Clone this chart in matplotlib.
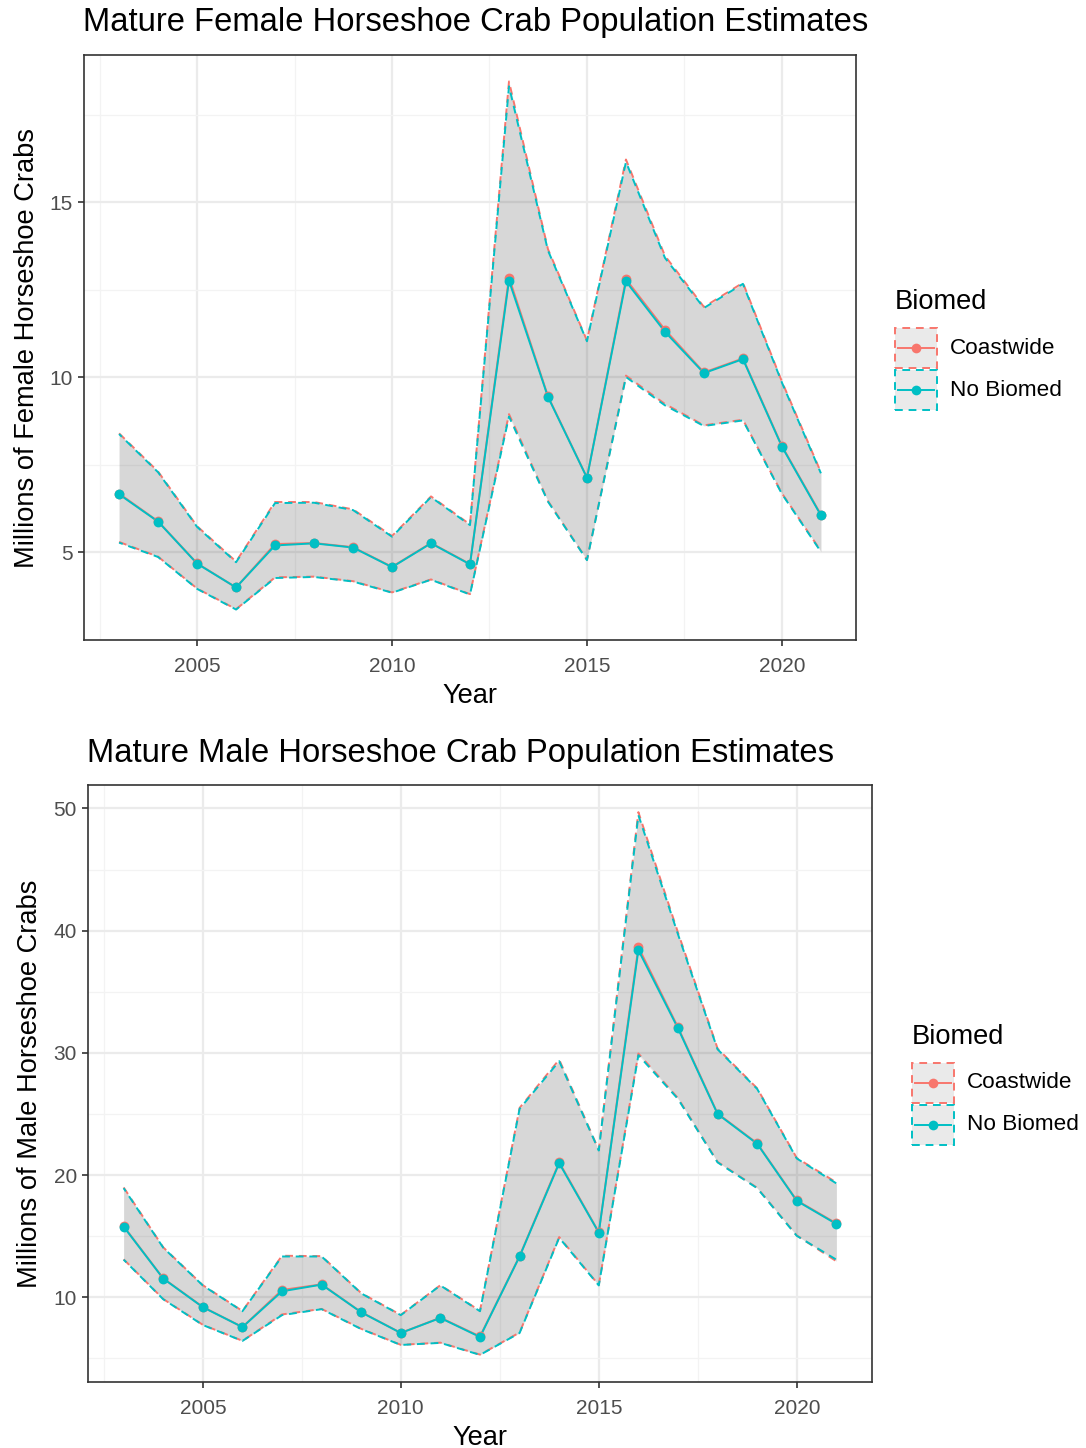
import matplotlib
matplotlib.use("Agg")
import matplotlib.pyplot as plt
from matplotlib.patches import Rectangle
from matplotlib.lines import Line2D
import numpy as np

plt.rcParams['font.family'] = ['Liberation Sans', 'DejaVu Sans']

years = list(range(2003, 2022))
groups = ["Coastwide", "No Biomed"]
colors = {"Coastwide": "#F8766D", "No Biomed": "#00BFC4"}

# Female (millions)
female_nb = [6.66, 5.88, 4.68, 4.00, 5.20, 5.26, 5.14, 4.58, 5.26, 4.66,
             12.76, 9.44, 7.13, 12.74, 11.30, 10.12, 10.52, 8.02, 6.06]
female_nb_lo = [5.28, 4.87, 3.96, 3.37, 4.27, 4.30, 4.17, 3.85, 4.22, 3.80,
                8.88, 6.45, 4.78, 10.01, 9.20, 8.61, 8.77, 6.67, 5.02]
female_nb_hi = [8.38, 7.29, 5.73, 4.72, 6.41, 6.42, 6.21, 5.45, 6.58, 5.78,
                18.31, 13.62, 11.03, 16.15, 13.41, 11.98, 12.67, 9.85, 7.26]
female_cw = [6.68, 5.89, 4.69, 4.00, 5.24, 5.27, 5.15, 4.59, 5.27, 4.67,
             12.85, 9.46, 7.14, 12.80, 11.36, 10.14, 10.54, 8.04, 6.08]
female_cw_lo = [5.30, 4.88, 3.97, 3.38, 4.29, 4.31, 4.18, 3.86, 4.23, 3.81,
                8.95, 6.47, 4.79, 10.05, 9.24, 8.63, 8.79, 6.69, 5.04]
female_cw_hi = [8.40, 7.31, 5.75, 4.74, 6.44, 6.44, 6.23, 5.47, 6.60, 5.80,
                18.45, 13.66, 11.05, 16.22, 13.47, 12.01, 12.70, 9.88, 7.29]

# Male (millions)
male_nb = [15.78, 11.53, 9.19, 7.56, 10.49, 11.04, 8.77, 7.08, 8.31, 6.75,
           13.34, 20.97, 15.29, 38.41, 32.01, 25.00, 22.56, 17.89, 16.00]
male_nb_lo = [13.08, 9.84, 7.73, 6.43, 8.54, 9.03, 7.40, 6.10, 6.27, 5.29,
              7.08, 14.87, 10.97, 29.81, 26.23, 21.04, 18.93, 15.03, 13.08]
male_nb_hi = [18.93, 14.06, 10.97, 8.86, 13.34, 13.34, 10.32, 8.54, 10.97, 8.86,
              25.42, 29.32, 22.01, 49.45, 39.70, 30.29, 27.05, 21.36, 19.32]
male_cw = [15.82, 11.55, 9.21, 7.57, 10.60, 11.06, 8.79, 7.09, 8.33, 6.80,
           13.38, 21.05, 15.33, 38.65, 32.10, 25.04, 22.60, 17.93, 16.05]
male_cw_lo = [13.11, 9.86, 7.75, 6.44, 8.60, 9.05, 7.42, 6.11, 6.29, 5.31,
              7.12, 14.93, 11.00, 29.95, 26.30, 21.08, 18.96, 15.06, 12.95]
male_cw_hi = [18.99, 14.09, 10.99, 8.88, 13.40, 13.37, 10.34, 8.56, 10.99, 8.89,
              25.50, 29.45, 22.06, 49.70, 39.85, 30.36, 27.10, 21.40, 19.40]

female_data = {"Coastwide": (female_cw, female_cw_lo, female_cw_hi),
               "No Biomed": (female_nb, female_nb_lo, female_nb_hi)}
male_data = {"Coastwide": (male_cw, male_cw_lo, male_cw_hi),
             "No Biomed": (male_nb, male_nb_lo, male_nb_hi)}

W, H = 1086, 1448
fig = plt.figure(figsize=(W / 100, H / 100), dpi=100)

BASE = 19.6
TICK = 15.0
LEG = 16.2
TITLE = 23.6
GRID_MAJ = "#EBEBEB"
BORDER = "#333333"
TXT = "#4D4D4D"


def px_axes(l, t, r, b):
    return fig.add_axes([l / W, 1 - b / H, (r - l) / W, (b - t) / H])


def ax_center_y(ax):
    pos = ax.get_position()
    return 1 - (pos.y0 + pos.height / 2)


def draw_panel(ax, data, yticks, yminor, title, ylabel, title_xy, ylabel_x):
    for g in groups:
        mid, lo, hi = data[g]
        ax.fill_between(years, lo, hi, color="#333333", alpha=0.1, lw=0, zorder=2)
    for i, g in enumerate(groups):
        mid, lo, hi = data[g]
        dash = (0, (4, 3)) if i == 0 else (2, (4, 3))
        ax.plot(years, lo, color=colors[g], lw=1.4, ls=dash, zorder=3)
        ax.plot(years, hi, color=colors[g], lw=1.4, ls=dash, zorder=3)
    for g in groups:
        mid, lo, hi = data[g]
        ax.plot(years, mid, color=colors[g], lw=1.4, zorder=4)
    for g in groups:
        mid, lo, hi = data[g]
        ax.scatter(years, mid, color=colors[g], s=50, lw=0, zorder=5)

    allv = np.concatenate([np.array(data[g][k]) for g in groups for k in range(3)])
    lo_v, hi_v = allv.min(), allv.max()
    pad = 0.05 * (hi_v - lo_v)
    ax.set_ylim(lo_v - pad, hi_v + pad)
    xpad = 0.05 * (years[-1] - years[0])
    ax.set_xlim(years[0] - xpad, years[-1] + xpad)

    ax.set_xticks([2005, 2010, 2015, 2020])
    ax.set_xticks([2002.5, 2007.5, 2012.5, 2017.5], minor=True)
    ax.set_yticks(yticks)
    ax.set_yticks(yminor, minor=True)
    ax.grid(True, which="major", color=GRID_MAJ, lw=1.6, zorder=0)
    ax.grid(True, which="minor", color="#F3F3F3", lw=0.9, zorder=0)
    ax.set_axisbelow(True)
    for s in ax.spines.values():
        s.set_color(BORDER)
        s.set_linewidth(1.2)
    ax.tick_params(which="major", length=4, width=1.2, color=BORDER,
                   labelsize=TICK, labelcolor=TXT)
    ax.tick_params(axis="x", which="major", pad=8)
    ax.tick_params(axis="y", which="major", pad=4)
    ax.tick_params(which="minor", length=0)
    ax.set_xlabel("Year", fontsize=BASE, color="black", labelpad=5)
    fig.text(ylabel_x / W, 1 - ax_center_y(ax), ylabel, rotation=90,
             fontsize=BASE, ha="center", va="center")
    fig.text(title_xy[0] / W, 1 - title_xy[1] / H, title, fontsize=TITLE,
             ha="left", va="center")


def draw_legend(x0, ytitle, ykey0):
    fig.text(x0 / W, 1 - ytitle / H, "Biomed", fontsize=BASE, ha="left", va="center")
    kw, kh = 42, 40
    for i, g in enumerate(groups):
        top = ykey0 + i * 42
        rect = Rectangle((x0 / W, 1 - (top + kh) / H), kw / W, kh / H,
                         transform=fig.transFigure, facecolor=(0.2, 0.2, 0.2, 0.1),
                         edgecolor=colors[g], lw=1.4, ls=(0, (4, 3)))
        fig.add_artist(rect)
        yc = 1 - (top + kh / 2) / H
        fig.add_artist(Line2D([(x0 + 3) / W, (x0 + kw - 3) / W], [yc, yc],
                              transform=fig.transFigure, color=colors[g], lw=1.4))
        fig.add_artist(Line2D([(x0 + kw / 2) / W], [yc], transform=fig.transFigure,
                              color=colors[g], marker="o", ms=7, mew=0))
        fig.text((x0 + kw + 13) / W, yc, g, fontsize=LEG, ha="left", va="center")


ax1 = px_axes(84, 55, 856, 640)
draw_panel(ax1, female_data, [5, 10, 15], [2.5, 7.5, 12.5, 17.5],
           "Mature Female Horseshoe Crab Population Estimates",
           "Millions of Female Horseshoe Crabs", (83, 22), 27)
draw_legend(895, 302, 328)

ax2 = px_axes(88, 785, 872, 1382)
draw_panel(ax2, male_data, [10, 20, 30, 40, 50], [5, 15, 25, 35, 45],
           "Mature Male Horseshoe Crab Population Estimates",
           "Millions of Male Horseshoe Crabs", (87, 753), 30)
draw_legend(912, 1037, 1063)

fig.savefig("out.png", dpi=100, facecolor="white")
